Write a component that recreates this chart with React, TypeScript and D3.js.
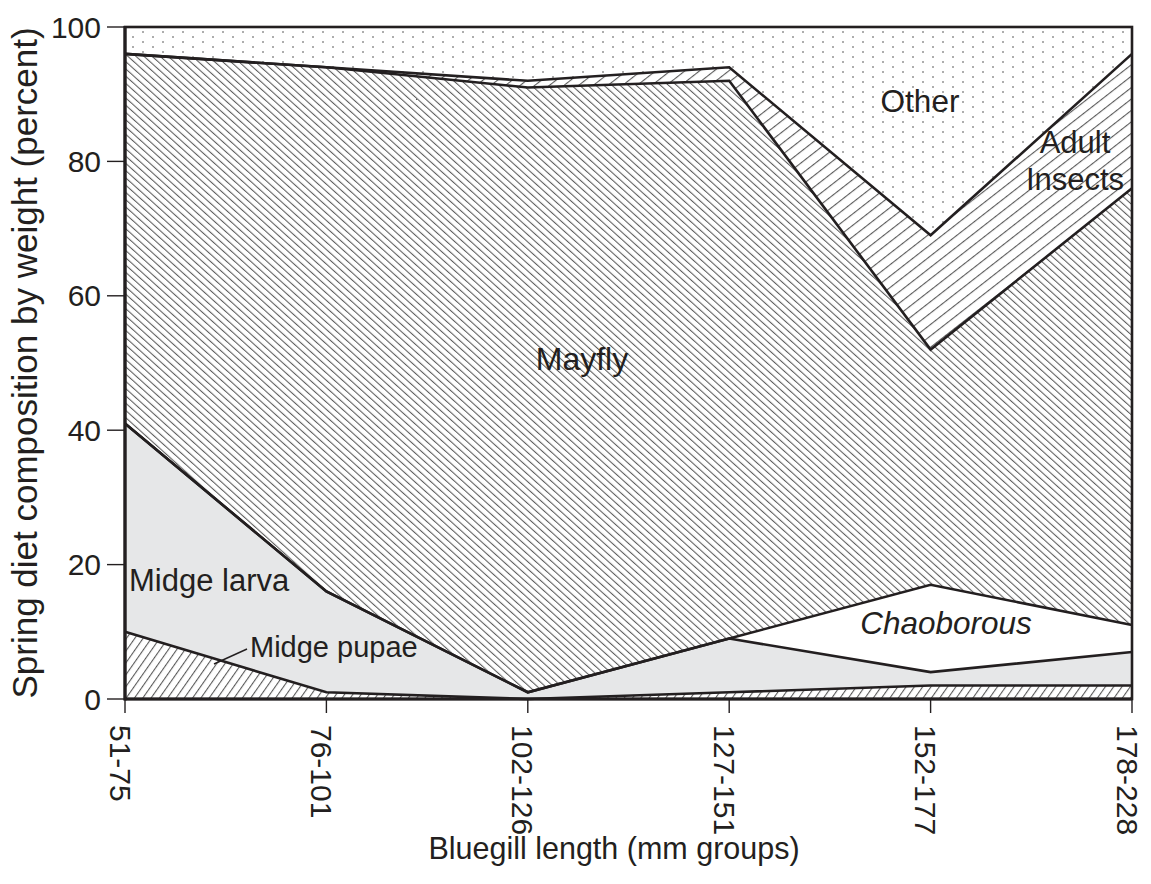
import React from "react";
import * as d3 from "d3";

const groups = ["51-75", "76-101", "102-126", "127-151", "152-177", "178-228"];
const midgePupae = [10, 1, 0, 1, 2, 2];
const midgeLarva = [31, 15, 1, 8, 2, 5];
const chaoborous = [0, 0, 0, 0, 13, 4];
const mayfly = [55, 78, 90, 83, 35, 65];
const adultInsects = [0, 0, 1, 2, 17, 20];
const other = [4, 6, 8, 6, 31, 4];
const yTicks = [0, 20, 40, 60, 80, 100];
const seriesKeys = ["pupae", "larva", "chaob", "mayfly", "adult", "other"];
const seriesFills = ["url(#hPupae)", "#e6e7e8", "#ffffff", "url(#hMayfly)", "url(#hAdult)", "url(#dots)"];

const W = 1151;
const H = 884;
const L = 125, R = 1132, T = 27, B = 699;
const FONT = "'Liberation Sans', Arial, Helvetica, sans-serif";
const INK = "#231f20";

export default function App() {
  const rows = groups.map((g, i) => ({
    g,
    pupae: midgePupae[i],
    larva: midgeLarva[i],
    chaob: chaoborous[i],
    mayfly: mayfly[i],
    adult: adultInsects[i],
    other: other[i],
  }));
  const stacked = d3.stack<any>().keys(seriesKeys)(rows);
  const x = d3.scalePoint<string>().domain(groups).range([L, R]);
  const y = d3.scaleLinear().domain([0, 100]).range([B, T]);
  const area = d3
    .area<any>()
    .x((d) => x(d.data.g) as number)
    .y0((d) => y(d[0]))
    .y1((d) => y(d[1]));
  const line = d3
    .line<any>()
    .x((d) => x(d.data.g) as number)
    .y((d) => y(d[1]));

  return (
    <svg width={W} height={H} style={{ position: "absolute", left: 0, top: 0, background: "#fff" }} fontFamily={FONT}>
      <defs>
        <pattern id="hMayfly" width={5.4} height={10} patternUnits="userSpaceOnUse" patternTransform="rotate(-48)">
          <rect width={5.4} height={10} fill="#fff" />
          <line x1={0.6} y1={0} x2={0.6} y2={10} stroke="#333" strokeWidth={0.9} />
        </pattern>
        <pattern id="hAdult" width={9} height={10} patternUnits="userSpaceOnUse" patternTransform="rotate(52)">
          <rect width={9} height={10} fill="#fff" />
          <line x1={0.6} y1={0} x2={0.6} y2={10} stroke="#333" strokeWidth={0.9} />
        </pattern>
        <pattern id="hPupae" width={6.8} height={10} patternUnits="userSpaceOnUse" patternTransform="rotate(35)">
          <rect width={6.8} height={10} fill="#fff" />
          <line x1={0.6} y1={0} x2={0.6} y2={10} stroke="#333" strokeWidth={0.9} />
        </pattern>
        <pattern id="dots" width={20} height={10} patternUnits="userSpaceOnUse">
          <rect width={20} height={10} fill="#fff" />
          <circle cx={3} cy={2} r={0.8} fill="#444" />
          <circle cx={13} cy={7} r={0.8} fill="#444" />
        </pattern>
      </defs>

      {stacked.map((s, i) => (
        <path key={s.key} d={area(s as any) || ""} fill={seriesFills[i]} stroke="none" />
      ))}
      {stacked.slice(0, 5).map((s) => (
        <path key={"l" + s.key} d={line(s as any) || ""} fill="none" stroke={INK} strokeWidth={2.6} strokeLinejoin="miter" />
      ))}

      {/* frame */}
      <rect x={L} y={T} width={R - L} height={B - T} fill="none" stroke={INK} strokeWidth={2.6} />
      <line x1={L} y1={T - 1} x2={L} y2={B + 1.5} stroke={INK} strokeWidth={3.2} />
      <line x1={L} y1={B} x2={R} y2={B} stroke={INK} strokeWidth={3.2} />

      {/* y axis */}
      {yTicks.map((t) => (
        <g key={t}>
          <line x1={107} x2={L} y1={y(t)} y2={y(t)} stroke={INK} strokeWidth={1.4} />
          <text x={101} y={y(t)} dy="0.35em" textAnchor="end" fontSize={30} fill={INK}>
            {t}
          </text>
        </g>
      ))}
      <text
        transform={`translate(37, ${(T + B) / 2}) rotate(-90)`}
        textAnchor="middle"
        fontSize={35}
        fill={INK}
      >
        Spring diet composition by weight (percent)
      </text>

      {/* x axis */}
      {groups.map((g) => (
        <g key={g}>
          <line x1={x(g)} x2={x(g)} y1={B} y2={713} stroke={INK} strokeWidth={1.4} />
          <text
            transform={`translate(${(x(g) as number) - 5}, 725) rotate(90)`}
            dy="0.35em"
            textAnchor="start"
            fontSize={30}
            fill={INK}
          >
            {g}
          </text>
        </g>
      ))}
      <text x={614} y={859} textAnchor="middle" fontSize={30.5} fill={INK}>
        Bluegill length (mm groups)
      </text>

      {/* series labels */}
      <text x={920} y={112} textAnchor="middle" fontSize={31.5} fill={INK}>Other</text>
      <text x={1075} y={153} textAnchor="middle" fontSize={31} fill={INK}>Adult</text>
      <text x={1075} y={190} textAnchor="middle" fontSize={31} fill={INK}>Insects</text>
      <text x={582} y={370} textAnchor="middle" fontSize={32} fill={INK}>Mayfly</text>
      <text x={129} y={591} textAnchor="start" fontSize={31} fill={INK}>Midge larva</text>
      <text x={250} y={657} textAnchor="start" fontSize={29} fill={INK}>Midge pupae</text>
      <line x1={247} y1={649} x2={214} y2={664} stroke={INK} strokeWidth={1.4} />
      <text x={946} y={634} textAnchor="middle" fontSize={31.5} fontStyle="italic" fill={INK}>Chaoborous</text>
    </svg>
  );
}
